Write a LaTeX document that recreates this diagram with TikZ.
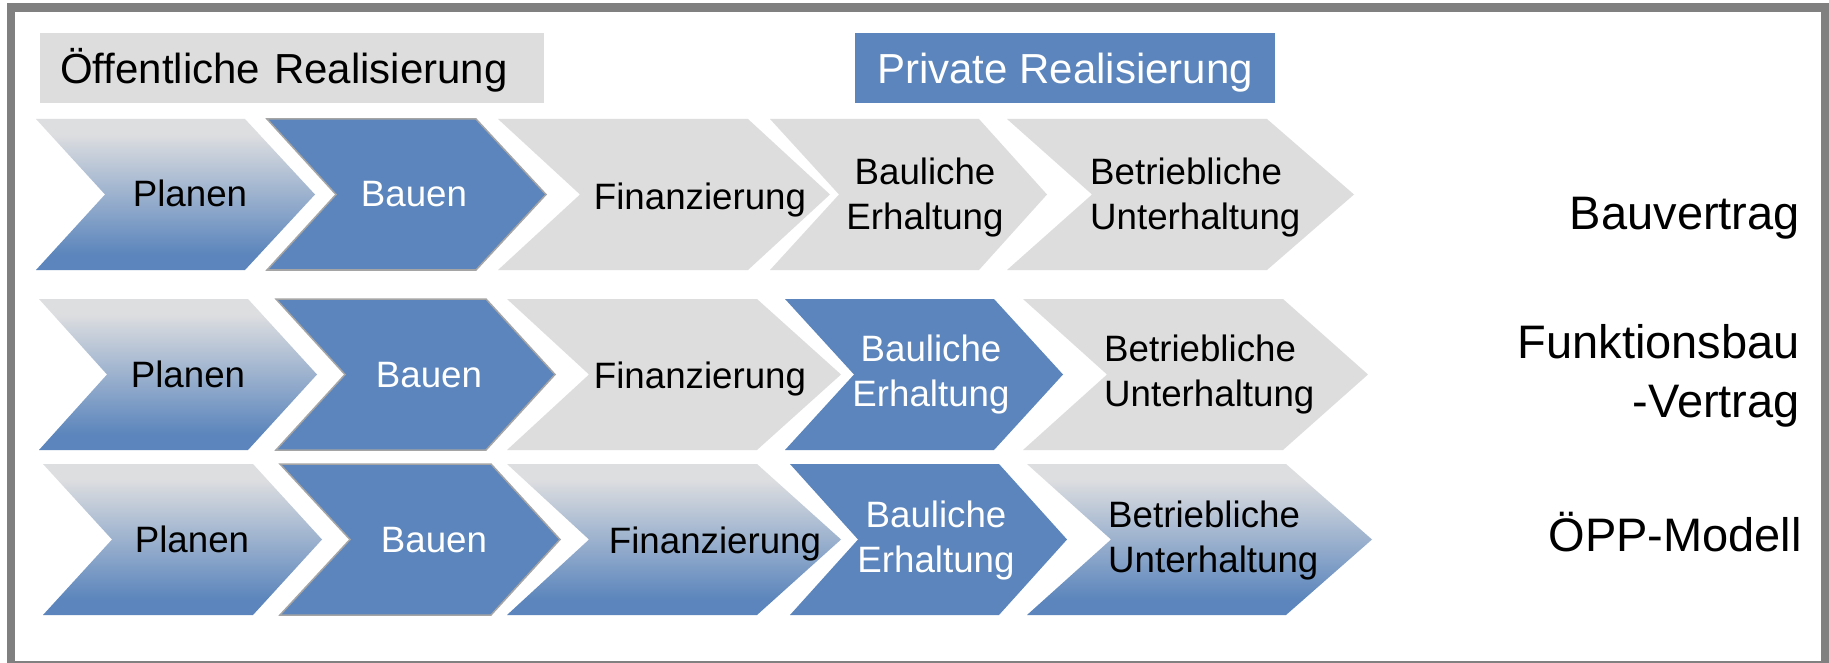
\documentclass[tikz,border=0pt]{standalone}
\usepackage{fontspec}
\setmainfont{Liberation Sans}
\definecolor{cblue}{RGB}{91,133,188}
\definecolor{cgray}{RGB}{221,221,221}
\definecolor{cgtop}{RGB}{221,222,224}
\definecolor{cframe}{RGB}{128,128,128}
\definecolor{cedge}{RGB}{165,165,165}
\pgfdeclareverticalshading{chevgrad}{100bp}{color(0bp)=(cblue); color(30bp)=(cblue); color(70bp)=(cgtop); color(100bp)=(cgtop)}
\newcommand{\mychev}[8]{%
  \path[#1] (#3,#7) -- (#5,#7) -- (#6,{(#7+#8)/2}) -- (#5,#8) -- (#3,#8) -- (#4,{(#7+#8)/2}) -- cycle;
  \coordinate (#2) at ({(#3+#6)/2},{(#7+#8)/2});
}
\tikzset{
  gch/.style={fill=cgray},
  bch/.style={fill=cblue},
  bchE/.style={fill=cblue, draw=cedge, line width=1.5pt},
  grch/.style={shade, shading=chevgrad},
  lbl/.style={inner sep=0pt, font=\fontsize{36.7}{45}\selectfont},
  wlbl/.style={lbl, text=white},
  side/.style={inner sep=0pt, font=\fontsize{47}{59}\selectfont, align=right},
  hdr/.style={inner sep=0pt, font=\fontsize{42}{50}\selectfont, text height=39pt, text depth=9pt, minimum height=70pt}
}
\begin{document}
\begin{tikzpicture}[x=1pt,y=-1pt]
\useasboundingbox (0,0) rectangle (1829,663);
\clip (0,0) rectangle (1829,663);
\fill[white] (0,0) rectangle (1829,663);
\draw[cframe, line width=8.5pt] (11,7.5) rectangle (1825,665.25);

% headers
\node[hdr, fill=cgray, anchor=north west, minimum width=504pt, text width=464pt, inner xsep=20pt, align=left] (pub) at (40,33) {Öffentliche Realisierung};
\node[hdr, fill=cblue, text=white, anchor=north west, minimum width=420pt] (priv) at (855,33) {Private Realisierung};

% row 1
\mychev{grch}{c11}{36}{105}{245}{315}{119}{270}
\mychev{bchE}{c12}{267}{336}{476}{546}{119}{270}
\mychev{gch}{c13}{498}{580}{748}{830}{119}{270}
\mychev{gch}{c14}{770}{839}{979}{1047}{119}{270}
\mychev{gch}{c15}{1007}{1092}{1267}{1354}{119}{270}
\node[lbl, anchor=base] (t11) at (190,207) {Planen};
\node[wlbl, anchor=base] (t12) at (414,207) {Bauen};
\node[lbl, anchor=base] (t13) at (700,210) {Finanzierung};
\node[lbl, align=center] (t14) at (925,198) {Bauliche\\Erhaltung};
\node[lbl, align=left, anchor=west] (t15) at (1090,198) {Betriebliche\\Unterhaltung};
\node[side, anchor=base east] (s1) at (1800,230) {Bauvertrag};

% row 2
\mychev{grch}{c21}{39}{107}{248}{317}{299}{450}
\mychev{bchE}{c22}{276}{345}{486}{555}{299}{450}
\mychev{gch}{c23}{507}{589}{757}{841}{299}{450}
\mychev{bch}{c24}{785}{854}{994}{1063}{299}{450}
\mychev{gch}{c25}{1023}{1107}{1283}{1368}{299}{450}
\node[lbl, anchor=base] (t21) at (188,387) {Planen};
\node[wlbl, anchor=base] (t22) at (429,387) {Bauen};
\node[lbl, anchor=base] (t23) at (700,388) {Finanzierung};
\node[wlbl, align=center] (t24) at (931,375) {Bauliche\\Erhaltung};
\node[lbl, align=left, anchor=west] (t25) at (1104,375) {Betriebliche\\Unterhaltung};
\node[side, anchor=east] (s2) at (1800,375.6) {Funktionsbau\\-Vertrag};

% row 3
\mychev{grch}{c31}{43}{112}{253}{322}{464}{615}
\mychev{bchE}{c32}{280}{350}{491}{560}{464}{615}
\mychev{grch}{c33}{507}{589}{757}{841}{464}{615}
\mychev{bch}{c34}{790}{858}{999}{1067}{464}{615}
\mychev{grch}{c35}{1027}{1111}{1286}{1372}{464}{615}
\node[lbl, anchor=base] (t31) at (192,552) {Planen};
\node[wlbl, anchor=base] (t32) at (434,552) {Bauen};
\node[lbl, anchor=base] (t33) at (715,553) {Finanzierung};
\node[wlbl, align=center] (t34) at (936,541) {Bauliche\\Erhaltung};
\node[lbl, align=left, anchor=west] (t35) at (1108,541) {Betriebliche\\Unterhaltung};
\node[side, anchor=base east] (s3) at (1802,551) {ÖPP-Modell};
\end{tikzpicture}
\end{document}
